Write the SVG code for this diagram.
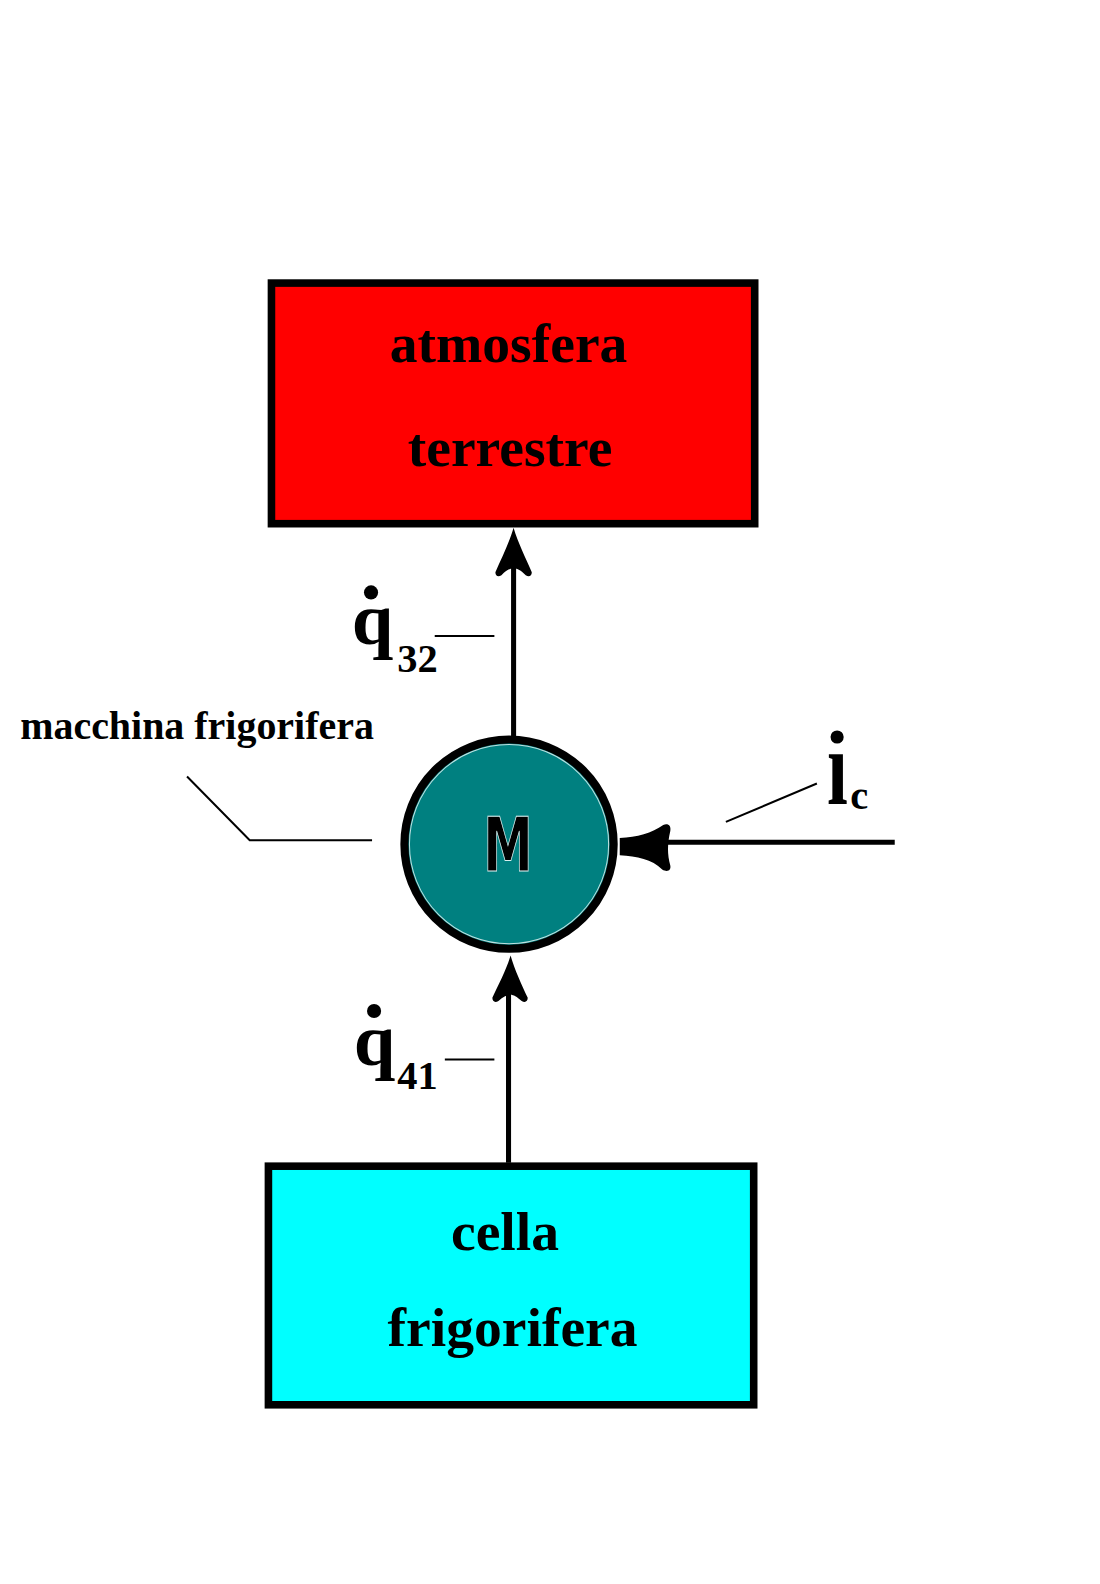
<svg xmlns="http://www.w3.org/2000/svg" width="1100" height="1584" viewBox="0 0 1100 1584">
<style>
.box{stroke:#000;stroke-width:7.5}
.big{font-family:"Liberation Serif","Times New Roman",serif;font-weight:bold;font-size:55px;fill:#000;text-anchor:middle}
.q{font-family:"Liberation Serif","Times New Roman",serif;font-weight:bold;font-size:74px;fill:#000}
.sub{font-family:"Liberation Serif","Times New Roman",serif;font-weight:bold;font-size:40px;fill:#000}
.lbl{font-family:"Liberation Serif","Times New Roman",serif;font-weight:bold;font-size:39.5px;fill:#000}
.thin{stroke:#000;stroke-width:2;fill:none}
.wire{stroke:#000;stroke-width:5;fill:none}
.head{fill:#000}
</style>
<rect width="1100" height="1584" fill="#fff"/>
<g transform="scale(1.011)">
<g id="connectors">
  <line class="wire" x1="508" y1="728" x2="508" y2="540"/>
  <path class="head" d="M508,522 C512,536 520,552 526,566 C526,570 523,571 520,569 C515,564 512,562 508,562 C504,562 501,564 496,569 C493,571 490,570 490,566 C496,552 504,536 508,522 Z"/>
  <line class="wire" x1="503" y1="1150" x2="503" y2="965"/>
  <path class="head" d="M505,945 C509,959 516,974 522,987 C522,991 519,992 516,990 C511,986 508,984 505,984 C501,984 498,986 493,990 C490,992 487,991 487,987 C493,974 501,959 505,945 Z"/>
  <line class="wire" x1="885" y1="833" x2="655" y2="833"/>
  <path class="head" d="M613,829 C630,828 645,824 656,816 C661,814 664,817 663,822 C660,835 660,845 663,856 C664,861 660,863 655,860 C645,850 630,847 613,846 Z"/>
</g>
<g id="atmosfera">
  <rect class="box" x="268.5" y="280" width="478" height="238" fill="#ff0000"/>
  <text class="big" x="503" y="358">atmosfera</text>
  <text class="big" x="504.5" y="461">terrestre</text>
</g>
<g id="cella">
  <rect class="box" x="265.5" y="1153.5" width="480" height="236" fill="#00ffff"/>
  <text class="big" x="499.5" y="1236">cella</text>
  <text class="big" x="507" y="1331">frigorifera</text>
</g>
<g id="macchina">
  <circle cx="503.5" cy="835" r="103.5" fill="#008080" stroke="#000" stroke-width="8"/>
  <circle cx="503.5" cy="835" r="98.5" fill="none" stroke="#bfe0e0" stroke-width="1"/>
  <text x="478" y="862" textLength="49" lengthAdjust="spacingAndGlyphs" font-family="DejaVu Sans,sans-serif" font-weight="bold" font-size="74" fill="#000" stroke="#d8eeee" stroke-width="1">M</text>
</g>
<g id="q32">
  <circle cx="367" cy="586" r="7" fill="#000"/>
  <text class="q" x="348" y="637">q</text>
  <text class="sub" x="393" y="665">32</text>
  <line class="thin" x1="430" y1="629" x2="489" y2="629"/>
</g>
<g id="q41">
  <circle cx="370" cy="1000" r="7" fill="#000"/>
  <text class="q" x="350" y="1053">q</text>
  <text class="sub" x="393" y="1077">41</text>
  <line class="thin" x1="440" y1="1048" x2="489" y2="1048"/>
</g>
<g id="ic">
  <circle cx="828" cy="729" r="6.5" fill="#000"/>
  <text class="q" x="0" y="0" transform="translate(818 795) scale(1 1.45)">ı</text>
  <text class="sub" x="841" y="800">c</text>
  <line class="thin" x1="718" y1="813" x2="808" y2="775"/>
</g>
<g id="label">
  <text class="lbl" x="20" y="731">macchina frigorifera</text>
  <polyline class="thin" points="185,768 247,831 368,831"/>
</g>
</g>
</svg>
